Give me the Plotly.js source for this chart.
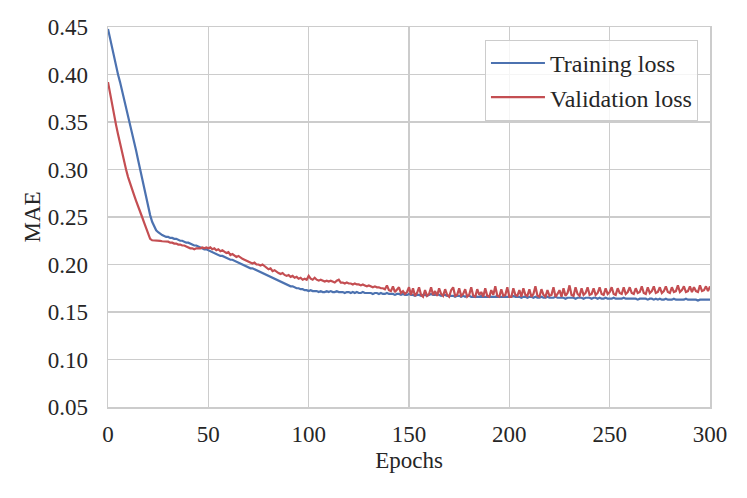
<!DOCTYPE html>
<html>
<head>
<meta charset="utf-8">
<script src="https://cdn.plot.ly/plotly-3.0.1.min.js"></script>
<style>html,body{margin:0;padding:0;background:#fff;}#chart{width:747px;height:498px;}</style>
</head>
<body>
<div id="chart"></div>
<script>
const seriesNames = ["Training loss", "Validation loss"];
const xTicks = [0, 50, 100, 150, 200, 250, 300];
const yTicks = [0.05, 0.10, 0.15, 0.20, 0.25, 0.30, 0.35, 0.40, 0.45];

const trainingLoss = [
0.448,0.438,0.427,0.418,0.409,0.400,0.392,0.383,0.375,0.367,
0.358,0.350,0.340,0.330,0.320,0.310,0.300,0.290,0.280,0.270,
0.261,0.252,0.245,0.240,0.236,0.234,0.232,0.231,0.230,0.229,
0.229,0.228,0.228,0.227,0.227,0.226,0.225,0.225,0.224,0.223,
0.223,0.222,0.221,0.220,0.220,0.219,0.218,0.217,0.216,0.216,
0.215,0.214,0.213,0.212,0.211,0.210,0.209,0.209,0.208,0.207,
0.206,0.205,0.205,0.204,0.203,0.202,0.201,0.200,0.199,0.198,
0.197,0.196,0.196,0.195,0.194,0.193,0.192,0.191,0.190,0.189,
0.188,0.187,0.186,0.185,0.184,0.183,0.182,0.181,0.180,0.179,
0.178,0.177,0.177,0.176,0.175,0.175,0.174,0.174,0.173,0.173,
0.172,
0.173,0.172,0.172,0.172,0.171,0.172,0.171,0.171,0.172,0.171,
0.172,0.171,0.171,0.172,0.171,0.171,0.171,0.170,0.171,0.171,
0.170,0.171,0.170,0.171,0.170,0.170,0.171,0.170,0.170,0.170,
0.170,0.169,0.170,0.170,0.169,0.170,0.169,0.169,0.170,0.169,
0.169,0.169,0.168,0.169,0.169,0.168,0.169,0.168,0.168,0.169,
0.168,0.168,0.167,0.168,0.168,0.167,0.168,0.168,0.167,0.168,
0.169,0.168,0.168,0.169,0.168,0.167,0.168,0.168,0.167,0.167,
0.167,0.167,0.166,0.167,0.167,0.166,0.167,0.166,0.167,0.167,
0.166,0.166,0.167,0.166,0.166,0.167,0.166,0.166,0.166,0.167,
0.166,0.166,0.166,0.167,0.166,0.166,0.166,0.166,0.166,0.166,
0.166,0.167,0.166,0.166,0.166,0.165,0.166,0.166,0.165,0.166,
0.166,0.165,0.166,0.165,0.165,0.166,0.165,0.165,0.166,0.165,
0.165,0.165,0.166,0.165,0.165,0.165,0.165,0.164,0.165,0.165,
0.165,0.165,0.164,0.165,0.165,0.165,0.164,0.165,0.165,0.165,
0.164,0.165,0.165,0.164,0.165,0.164,0.164,0.165,0.164,0.164,
0.164,0.165,0.164,0.164,0.164,0.164,0.165,0.164,0.164,0.164,
0.164,0.164,0.164,0.163,0.164,0.164,0.164,0.164,0.163,0.164,
0.164,0.163,0.164,0.163,0.164,0.163,0.163,0.164,0.163,0.163,
0.163,0.164,0.163,0.163,0.163,0.163,0.163,0.164,0.163,0.163,
0.163,0.163,0.163,0.162,0.163,0.163,0.163,0.163,0.163,0.163
];

const validationLoss = [
0.392,0.380,0.368,0.357,0.347,0.337,0.327,0.318,0.309,0.300,
0.292,0.285,0.279,0.273,0.267,0.262,0.256,0.250,0.244,0.238,
0.232,0.227,0.2255,0.2255,0.2253,0.225,0.2248,0.2245,0.2243,0.224,
0.224,0.223,0.223,0.222,0.222,0.221,0.221,0.220,0.220,0.219,
0.218,0.217,0.217,0.216,0.217,0.217,0.217,0.218,0.217,0.218,
0.217,0.218,0.216,0.217,0.215,0.216,0.214,0.215,0.213,0.212,
0.213,0.210,0.211,0.209,0.208,0.209,0.207,0.206,0.205,0.204,
0.203,0.202,0.201,0.202,0.200,0.200,0.199,0.200,0.198,0.197,
0.195,0.196,0.193,0.194,0.192,0.191,0.190,0.191,0.189,0.188,
0.189,0.187,0.188,0.186,0.187,0.185,0.186,0.184,0.185,0.184,
0.188,
0.185,0.184,0.186,0.184,0.183,0.184,0.183,0.182,0.183,0.182,
0.183,0.182,0.181,0.183,0.184,0.181,0.181,0.180,0.181,0.180,
0.180,0.179,0.180,0.179,0.179,0.178,0.179,0.178,0.177,0.178,
0.177,0.176,0.177,0.176,0.176,0.175,0.175,0.174,0.178,0.173,
0.172,0.177,0.171,0.174,0.176,0.170,0.172,0.169,0.171,0.176,
0.168,0.175,0.167,0.170,0.176,0.168,0.166,0.173,0.167,0.169,
0.176,0.168,0.172,0.167,0.175,0.169,0.167,0.174,0.168,0.166,
0.173,0.176,0.167,0.168,0.175,0.167,0.169,0.174,0.166,0.168,
0.176,0.167,0.166,0.174,0.168,0.171,0.166,0.175,0.167,0.166,
0.173,0.168,0.177,0.167,0.166,0.174,0.167,0.168,0.176,0.166,
0.166,0.175,0.168,0.167,0.173,0.166,0.175,0.168,0.167,0.174,
0.166,0.169,0.177,0.167,0.166,0.174,0.168,0.166,0.173,0.167,
0.168,0.176,0.166,0.169,0.173,0.166,0.175,0.167,0.170,0.178,
0.168,0.167,0.176,0.169,0.167,0.175,0.168,0.170,0.176,0.168,
0.169,0.175,0.168,0.170,0.176,0.169,0.168,0.175,0.169,0.171,
0.176,0.169,0.168,0.175,0.170,0.169,0.176,0.169,0.171,0.176,
0.170,0.169,0.175,0.170,0.171,0.177,0.170,0.169,0.176,0.170,
0.172,0.177,0.170,0.171,0.176,0.170,0.172,0.177,0.171,0.170,
0.176,0.171,0.172,0.178,0.171,0.173,0.177,0.171,0.172,0.177,
0.171,0.176,0.172,0.171,0.178,0.172,0.173,0.177,0.172,0.177
];

const epochs = trainingLoss.map((_, i) => i);

const FONT = "Liberation Serif";
const TEXT = "#262626";
const GRID = "#cccccc";

const traces = [
  {x: epochs, y: trainingLoss, name: seriesNames[0], type: "scatter", mode: "lines",
   line: {color: "#4C72B0", width: 2.2}},
  {x: epochs.slice(0, validationLoss.length), y: validationLoss, name: seriesNames[1], type: "scatter", mode: "lines",
   line: {color: "#C44E52", width: 2.2}}
];

const layout = {
  width: 747, height: 498,
  margin: {l: 108, r: 37, t: 27, b: 91},
  paper_bgcolor: "#ffffff", plot_bgcolor: "#ffffff",
  font: {family: FONT, size: 23, color: TEXT},
  showlegend: true,
  legend: {
    x: 0.98, y: 0.966, xanchor: "right", yanchor: "top",
    bgcolor: "rgba(255,255,255,0.8)", bordercolor: GRID, borderwidth: 1,
    font: {family: FONT, size: 24, color: TEXT},
    itemwidth: 54,
    tracegroupgap: 0
  },
  xaxis: {
    range: [0, 300], tickvals: xTicks, ticktext: xTicks.map(String),
    showgrid: true, gridcolor: GRID, gridwidth: 1.5,
    zeroline: false, showline: true, linecolor: GRID, linewidth: 1.5, mirror: true,
    ticks: "outside", ticklen: 6, tickcolor: "rgba(0,0,0,0)",
    tickfont: {family: FONT, size: 23, color: TEXT},
    title: {text: "Epochs", font: {family: FONT, size: 23, color: TEXT}, standoff: 6}
  },
  yaxis: {
    range: [0.05, 0.45], tickvals: yTicks, ticktext: yTicks.map(v => v.toFixed(2)),
    showgrid: true, gridcolor: GRID, gridwidth: 1.5,
    zeroline: false, showline: true, linecolor: GRID, linewidth: 1.5, mirror: true,
    ticks: "outside", ticklen: 14, tickcolor: "rgba(0,0,0,0)",
    tickfont: {family: FONT, size: 23, color: TEXT},
    title: {text: "MAE", font: {family: FONT, size: 23, color: TEXT}, standoff: 0}
  }
};

Plotly.newPlot("chart", traces, layout, {staticPlot: true, displayModeBar: false});
</script>
</body>
</html>
